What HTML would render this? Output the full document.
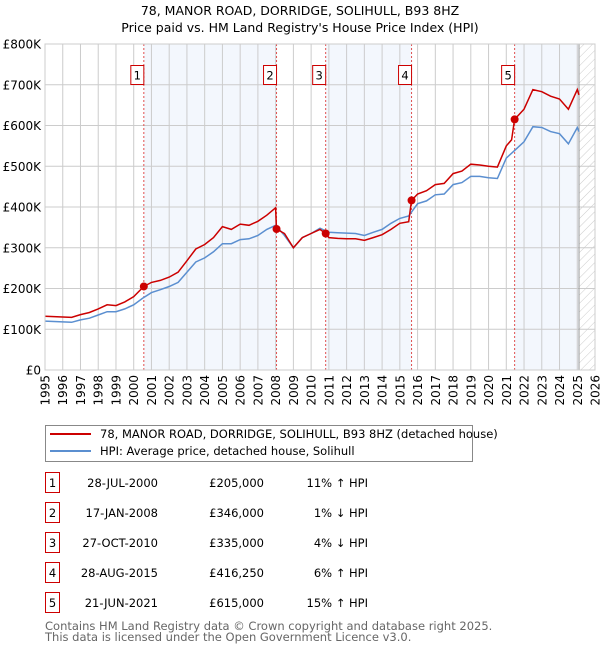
<!DOCTYPE html>
<html><head><meta charset="utf-8"><style>
body{margin:0;background:#fff;width:600px;height:650px;overflow:hidden;font-family:"DejaVu Sans","Liberation Sans",sans-serif}
svg text{font-family:"DejaVu Sans","Liberation Sans",sans-serif}
</style></head><body>
<svg id="chart" width="600" height="650" xmlns="http://www.w3.org/2000/svg">
<defs><pattern id="hatch" width="6" height="6" patternUnits="userSpaceOnUse" patternTransform="rotate(45)"><line x1="0" y1="0" x2="0" y2="6" stroke="#ccc" stroke-width="1"/></pattern></defs>
<text x="300" y="15" text-anchor="middle" font-size="12.5">78, MANOR ROAD, DORRIDGE, SOLIHULL, B93 8HZ</text>
<text x="300" y="32" text-anchor="middle" font-size="12.5">Price paid vs. HM Land Registry's House Price Index (HPI)</text>
<g id="plot"></g>
<g>
<rect x="45.5" y="425.5" width="427" height="36" fill="#fff" stroke="#888"/>
<line x1="50" y1="434" x2="91" y2="434" stroke="#cc0000" stroke-width="2"/>
<text x="100" y="438" font-size="11.5">78, MANOR ROAD, DORRIDGE, SOLIHULL, B93 8HZ (detached house)</text>
<line x1="50" y1="451" x2="91" y2="451" stroke="#5b8fd0" stroke-width="2"/>
<text x="100" y="455" font-size="11.5">HPI: Average price, detached house, Solihull</text>
</g>
<g id="table"></g>
<text x="45" y="630" font-size="11.5" fill="#666">Contains HM Land Registry data © Crown copyright and database right 2025.</text>
<text x="45" y="641" font-size="11.5" fill="#666">This data is licensed under the Open Government Licence v3.0.</text>
</svg>
<script>
const hpiDates=[1995,1995.5,1996,1996.5,1997,1997.5,1998,1998.5,1999,1999.5,2000,2000.5,2001,2001.5,2002,2002.5,2003,2003.5,2004,2004.5,2005,2005.5,2006,2006.5,2007,2007.5,2008,2008.5,2009,2009.5,2010,2010.5,2011,2011.5,2012,2012.5,2013,2013.5,2014,2014.5,2015,2015.5,2016,2016.5,2017,2017.5,2018,2018.5,2019,2019.5,2020,2020.5,2021,2021.5,2022,2022.5,2023,2023.5,2024,2024.5,2025,2025.1];
const hpiValues=[120,119,118,117,123,127,135,143,143,150,160,176,190,197,205,215,240,265,275,290,310,310,320,322,330,345,355,330,300,325,335,348,338,337,336,335,330,338,345,360,372,378,408,415,430,432,455,460,475,475,472,470,520,540,560,597,595,585,580,555,595,585];
const priceDates=[1995,1995.5,1996,1996.5,1997,1997.5,1998,1998.5,1999,1999.5,2000,2000.57,2001,2001.5,2002,2002.5,2003,2003.5,2004,2004.5,2005,2005.5,2006,2006.5,2007,2007.5,2008,2008.05,2008.5,2009,2009.5,2010,2010.5,2010.82,2011,2011.5,2012,2012.5,2013,2013.5,2014,2014.5,2015,2015.5,2015.66,2016,2016.5,2017,2017.5,2018,2018.5,2019,2019.5,2020,2020.5,2021,2021.3,2021.47,2022,2022.5,2023,2023.5,2024,2024.5,2025,2025.1];
const priceValues=[132,131,130,129,136,141,150,160,158,167,180,205,215,220,228,240,268,297,308,325,352,345,358,355,365,380,398,346,335,300,325,335,345,335,325,323,322,322,318,325,332,345,360,364,416,432,440,455,458,482,488,505,503,500,498,550,565,615,640,688,683,672,665,640,688,675];
const saleLabels=["1","2","3","4","5"];
const saleDates=[2000.57,2008.05,2010.82,2015.66,2021.47];
const saleValues=[205,346,335,416.25,615];
const saleDateText=["28-JUL-2000","17-JAN-2008","27-OCT-2010","28-AUG-2015","21-JUN-2021"];
const salePriceText=["£205,000","£346,000","£335,000","£416,250","£615,000"];
const saleHpiText=["11% ↑ HPI","1% ↓ HPI","4% ↓ HPI","6% ↑ HPI","15% ↑ HPI"];
const yTicks=[0,100,200,300,400,500,600,700,800];
const yTickLabels=["£0","£100K","£200K","£300K","£400K","£500K","£600K","£700K","£800K"];
const xTicks=[1995,1996,1997,1998,1999,2000,2001,2002,2003,2004,2005,2006,2007,2008,2009,2010,2011,2012,2013,2014,2015,2016,2017,2018,2019,2020,2021,2022,2023,2024,2025,2026];
const dataEnd=2025.1;

const NS="http://www.w3.org/2000/svg";
const X0=45,X1=595,Y0=370,Y1=44;
const xs=d=>X0+(d-1995)/(2026-1995)*(X1-X0);
const ys=v=>Y0-v/800*(Y0-Y1);
const plot=document.getElementById('plot');
function mk(tag,attrs,parent){const e=document.createElementNS(NS,tag);for(const k in attrs)e.setAttribute(k,attrs[k]);(parent||plot).appendChild(e);return e;}
// shaded bands
for(let i=0;i<saleDates.length;i+=2){
  const a=saleDates[i],b=i+1<saleDates.length?saleDates[i+1]:dataEnd;
  const r=mk('rect',{x:xs(a),y:Y1,width:xs(b)-xs(a),height:Y0-Y1,fill:'#eef3fc',opacity:0.7});
  
  
}
const h=mk('rect',{x:xs(dataEnd),y:Y1,width:X1-xs(dataEnd),height:Y0-Y1,fill:'url(#hatch)'});


// grid
yTicks.forEach((t,i)=>{
  const l=mk('line',{x1:X0,x2:X1,y1:ys(t),y2:ys(t),stroke:'#ccc','stroke-width':1});
  
  
  const tx=mk('text',{x:X0-4,y:ys(t)+4.5,'text-anchor':'end','font-size':12});
  
  
  tx.textContent=yTickLabels[i];
});
xTicks.forEach(t=>{
  const l=mk('line',{x1:xs(t),x2:xs(t),y1:Y1,y2:Y0,stroke:'#ccc','stroke-width':1});
  
  
  const tx=mk('text',{x:0,y:0,'text-anchor':'end','font-size':12,transform:`translate(${xs(t)+4.5},${Y0+5}) rotate(-90)`});
  
  
  tx.textContent=t;
});
const el=mk('line',{x1:xs(dataEnd),x2:xs(dataEnd),y1:Y1,y2:Y0,stroke:'#999','stroke-width':1});


// sale markers vertical lines and labels
saleDates.forEach((d,i)=>{
  const l=mk('line',{x1:xs(d),x2:xs(d),y1:Y1,y2:Y0,stroke:'#e05050','stroke-width':1,'stroke-dasharray':'2,2'});
  
  
  const b=mk('rect',{x:xs(d)-13,y:65.5,width:13,height:19,fill:'#fff',stroke:'#cc0000'});
  
  
  const t=mk('text',{x:xs(d)-6.5,y:79.5,'text-anchor':'middle','font-size':11.5});
  
  
  t.textContent=saleLabels[i];
});
const pts=(ds,vs)=>ds.map((d,i)=>xs(d).toFixed(1)+','+ys(vs[i]).toFixed(1)).join(' ');
const hp=mk('polyline',{points:pts(hpiDates,hpiValues),fill:'none',stroke:'#5b8fd0','stroke-width':1.5});


const pp=mk('polyline',{points:pts(priceDates,priceValues),fill:'none',stroke:'#cc0000','stroke-width':1.5});


saleDates.forEach((d,i)=>{
  const c=mk('circle',{cx:xs(d),cy:ys(saleValues[i]),r:4,fill:'#cc0000'});
  
  
});
const fr=mk('rect',{x:X0,y:Y1,width:X1-X0,height:Y0-Y1,fill:'none',stroke:'#ccc'});


// table
const tbl=document.getElementById('table');
saleLabels.forEach((s,i)=>{
  const cy=483+i*30;
  const b=mk('rect',{x:45.5,y:cy-10.5,width:14,height:20,fill:'#fff',stroke:'#cc0000'},tbl);
  
  
  const rows=[[52.5,'middle',s,'table-sale-number'],[158,'end',saleDateText[i],'table-sale-date'],[264,'end',salePriceText[i],'table-sale-price'],[368,'end',saleHpiText[i],'table-hpi-diff']];
  rows.forEach(r=>{
    const t=mk('text',{x:r[0],y:cy+4,'text-anchor':r[1],'font-size':11.5},tbl);
    
    
    t.textContent=r[2];
  });
});
</script>
</body></html>
